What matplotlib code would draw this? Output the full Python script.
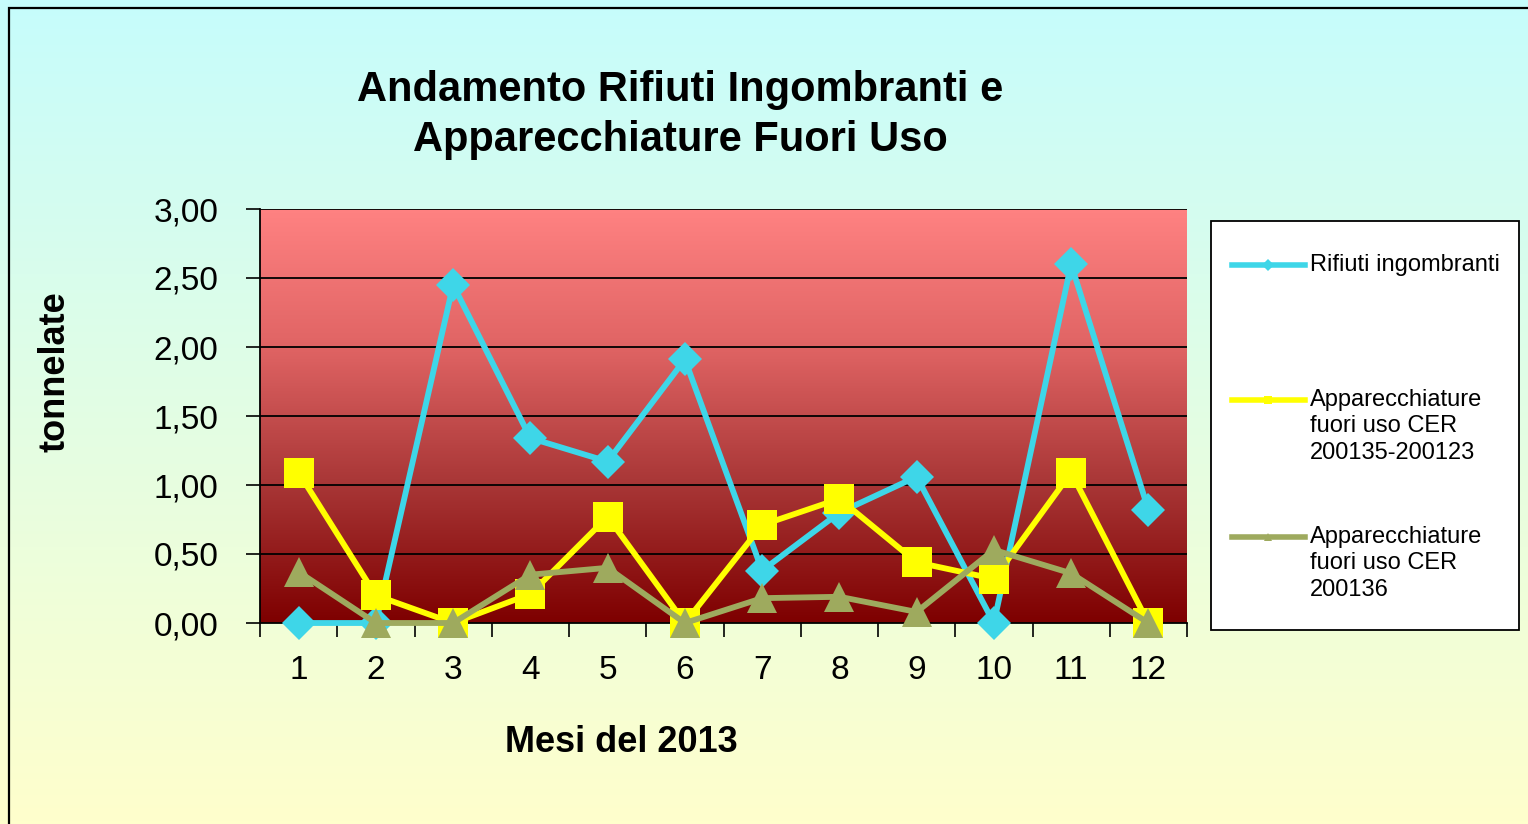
import numpy as np
import matplotlib
matplotlib.use("Agg")
import matplotlib.pyplot as plt
from matplotlib.colors import LinearSegmentedColormap
from matplotlib.lines import Line2D
from matplotlib.patches import Rectangle

plt.rcParams['font.family'] = ['Liberation Sans', 'DejaVu Sans']

# Data (tonnellate per mese, 2013)
mesi = [1, 2, 3, 4, 5, 6, 7, 8, 9, 10, 11, 12]
rifiuti_ingombranti = [0.00, 0.00, 2.45, 1.34, 1.17, 1.91, 0.38, 0.80, 1.06, 0.00, 2.60, 0.82]
raee_200135_200123 = [1.09, 0.20, 0.00, 0.21, 0.77, 0.00, 0.71, 0.90, 0.44, 0.32, 1.09, 0.00]
raee_200136 = [0.37, 0.00, 0.00, 0.35, 0.40, 0.00, 0.18, 0.19, 0.08, 0.53, 0.36, 0.00]

labels = ['Rifiuti ingombranti',
          'Apparecchiature\nfuori uso CER\n200135-200123',
          'Apparecchiature\nfuori uso CER\n200136']
colors = ['#3ED6E8', '#FFFF00', '#9EAA5E']
markers = ['D', 's', '^']
msizes = [17, 21, 22]
yticks = [0.0, 0.5, 1.0, 1.5, 2.0, 2.5, 3.0]

W, H = 1528, 824
fig = plt.figure(figsize=(W / 100, H / 100), dpi=100)

# figure background gradient (cyan -> pale yellow)
bg = fig.add_axes([0, 0, 1, 1], zorder=-10)
bg_cmap = LinearSegmentedColormap.from_list('bg', ['#FFFFCC', '#C6FCFC'])
bg.imshow(np.linspace(0, 1, 256).reshape(-1, 1), cmap=bg_cmap, origin='lower',
          extent=[0, 1, 0, 1], aspect='auto')
bg.set_xlim(0, 1)
bg.set_ylim(0, 1)
bg.axis('off')
fig.patches.append(Rectangle((9 / W, -0.05), 1.2, 1.05 - 8 / H, transform=fig.transFigure,
                             fill=False, ec='black', lw=1.6))

ax = fig.add_axes([260 / W, 1 - 623 / H, (1187 - 260) / W, (623 - 209) / H])
ax.set_facecolor('none')

# plot area gradient (light red -> dark red)
pa_cmap = LinearSegmentedColormap.from_list('pa', ['#7E0000', '#A83636', '#E06464', '#FF8282'])
ax.imshow(np.linspace(0, 1, 256).reshape(-1, 1), cmap=pa_cmap, origin='lower',
          extent=[0.5, 12.5, 0, 3], aspect='auto', zorder=0)

for y in yticks[1:]:
    ax.axhline(y, color='black', lw=1.3, zorder=1)

series = [rifiuti_ingombranti, raee_200135_200123, raee_200136]
for vals, c, m, ms in zip(series, colors, markers, msizes):
    ax.plot(mesi, vals, color=c, lw=4.2, marker=m, markersize=ms, markeredgewidth=0,
            clip_on=False, zorder=3)

ax.set_xlim(0.5, 12.5)
ax.set_ylim(0, 3)
ax.set_yticks(yticks)
ax.set_yticklabels([f"{v:.2f}".replace('.', ',') for v in yticks], fontsize=24)
ax.tick_params(axis='y', direction='out', length=10, width=1.2, pad=20)

ax.set_xticks(np.arange(0.5, 13, 1))
ax.set_xticklabels([])
ax.set_xticks(mesi, minor=True)
ax.set_xticklabels([str(m) for m in mesi], minor=True, fontsize=24)
ax.tick_params(axis='x', which='major', direction='out', length=10, width=1.2)
ax.tick_params(axis='x', which='minor', length=0, pad=23)

for s in ['top', 'right']:
    ax.spines[s].set_visible(False)
for s in ['left', 'bottom']:
    ax.spines[s].set_linewidth(1.3)
    ax.spines[s].set_zorder(2)

# titles and axis labels
fig.text(680 / W, 1 - 115 / H, 'Andamento Rifiuti Ingombranti e\nApparecchiature Fuori Uso',
         ha='center', va='center', fontsize=30, fontweight='bold', linespacing=1.32)
fig.text(55 / W, 1 - 372 / H, 'tonnelate', rotation=90, ha='center', va='center',
         fontsize=26, fontweight='bold')
fig.text(621 / W, 1 - 742 / H, 'Mesi del 2013', ha='center', va='center',
         fontsize=26, fontweight='bold')

# legend box
fig.patches.append(Rectangle((1211 / W, 1 - 630 / H), (1519 - 1211) / W, (630 - 221) / H,
                             transform=fig.transFigure, fc='white', ec='black', lw=1.3,
                             zorder=5))
leg_y = [265, 400, 537]
for yy, lab, c, m in zip(leg_y, labels, colors, markers):
    fy = 1 - yy / H
    fig.lines.append(Line2D([1232 / W, 1305 / W], [fy, fy], transform=fig.transFigure,
                            color=c, lw=4, marker=None, zorder=6))
    fig.lines.append(Line2D([1268 / W], [fy], transform=fig.transFigure, color=c,
                            marker=m, markersize=6, markeredgewidth=0, zorder=6))
    fig.text(1310 / W, fy + 11 / H, lab, ha='left', va='top', fontsize=17,
             linespacing=1.26, zorder=7)

fig.savefig('out.png', dpi=100)
